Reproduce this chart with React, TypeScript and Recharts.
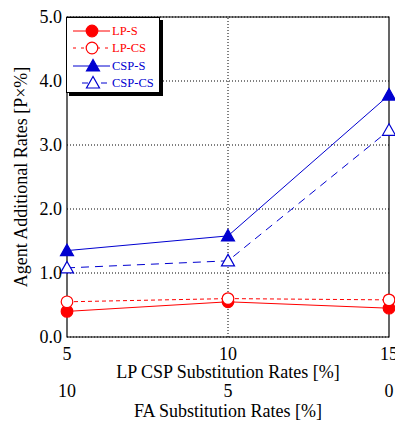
import React from 'react';
import {
  LineChart,
  Line,
  XAxis,
  YAxis,
  CartesianGrid,
  ReferenceLine,
  ReferenceArea,
  Label,
} from 'recharts';

const lpCspRates = [5, 10, 15];
const faRates = [10, 5, 0];
const lpS = [0.4, 0.55, 0.45];
const lpCs = [0.55, 0.6, 0.58];
const cspS = [1.35, 1.58, 3.78];
const cspCs = [1.08, 1.19, 3.23];
const yTicks = [0, 1, 2, 3, 4, 5];

const RED = '#ff0000';
const BLUE = '#0000d0';
const FONT = 'Liberation Serif';

const data = lpCspRates.map((x, i) => ({
  x,
  lpS: lpS[i],
  lpCs: lpCs[i],
  cspS: cspS[i],
  cspCs: cspCs[i],
}));

const series = [
  { key: 'lpS', name: 'LP-S', color: RED, dash: undefined, shape: 'circle', filled: true },
  { key: 'lpCs', name: 'LP-CS', color: RED, dash: '4 3', shape: 'circle', filled: false },
  { key: 'cspS', name: 'CSP-S', color: BLUE, dash: undefined, shape: 'triangle', filled: true },
  { key: 'cspCs', name: 'CSP-CS', color: BLUE, dash: '8 6', shape: 'triangle', filled: false },
];

function Marker({ cx, cy, shape, filled, color }: any) {
  if (cx == null || cy == null) return null;
  const fill = filled ? color : '#fff';
  if (shape === 'circle') {
    return <circle cx={cx} cy={cy} r={5.8} fill={fill} stroke={color} strokeWidth={1.2} />;
  }
  return (
    <polygon
      points={`${cx},${cy - 6.5} ${cx - 6.5},${cy + 5} ${cx + 6.5},${cy + 5}`}
      fill={fill}
      stroke={color}
      strokeWidth={1.2}
    />
  );
}

function LegendBox() {
  return (
    <div
      style={{
        position: 'absolute',
        left: 66,
        top: 17,
        width: 94,
        height: 76,
        border: '1px solid #000',
        background: '#fff',
        boxShadow: '3px 3px 0 #000',
        fontFamily: FONT,
        fontSize: 12.5,
        paddingTop: 4,
        boxSizing: 'border-box',
      }}
    >
      {series.map((s) => (
        <div key={s.key} style={{ display: 'flex', alignItems: 'center', height: 17.5 }}>
          <svg width={45} height={16} style={{ flex: 'none' }}>
            <line
              x1={s.key === 'cspCs' ? 15 : 6}
              x2={s.key === 'cspCs' ? 40 : 43}
              y1={8}
              y2={8}
              stroke={s.color}
              strokeWidth={1}
              strokeDasharray={s.key === 'lpCs' ? '3 5' : s.key === 'cspCs' ? '6 13 6' : undefined}
            />
            <Marker cx={s.shape === 'triangle' ? 26 : 25} cy={8} shape={s.shape} filled={s.filled} color={s.color} />
          </svg>
          <span style={{ color: s.color, lineHeight: '16px' }}>{s.name}</span>
        </div>
      ))}
    </div>
  );
}

function YLabel({ viewBox }: any) {
  const cy = viewBox.y + viewBox.height / 2;
  return (
    <text
      x={27}
      y={cy}
      transform={`rotate(-90 27 ${cy})`}
      textAnchor="middle"
      style={{ fontFamily: FONT, fontSize: 18, fill: '#000' }}
    >
      Agent Additional Rates [P×%]
    </text>
  );
}

export default function App() {
  const tickStyle = { fill: '#000', fontSize: 18, style: { fontFamily: FONT } };
  const labelStyle = { fill: '#000', fontSize: 18, fontFamily: FONT };
  return (
    <div
      style={{
        position: 'fixed',
        left: 0,
        top: 0,
        width: 395,
        height: 422,
        overflow: 'hidden',
        background: '#fff',
        fontFamily: FONT,
      }}
    >
      <LineChart
        width={395}
        height={422}
        data={data}
        margin={{ top: 17, right: 6, left: 0, bottom: 0 }}
        style={{ fontFamily: FONT }}
      >
        <CartesianGrid vertical={false} stroke="#000" strokeDasharray="1 2" />
        <ReferenceLine x={10} stroke="#000" strokeDasharray="1 2" />
        <ReferenceArea
          x1={5}
          x2={15}
          y1={0}
          y2={5}
          fill="none"
          stroke="#000"
          strokeWidth={1.2}
          fillOpacity={0}
        />
        <XAxis
          dataKey="x"
          type="number"
          domain={[5, 15]}
          ticks={lpCspRates}
          height={44}
          axisLine={false}
          tickLine={false}
          tickSize={0}
          tickMargin={10}
          tick={tickStyle}
          interval={0}
        >
          <Label value="LP CSP Substitution Rates [%]" position="insideBottom" offset={3} style={labelStyle} />
        </XAxis>
        <XAxis
          xAxisId="fa"
          dataKey="x"
          type="number"
          domain={[5, 15]}
          ticks={lpCspRates}
          tickFormatter={(v: number) => String(faRates[lpCspRates.indexOf(v)])}
          height={41}
          axisLine={false}
          tickLine={false}
          tickSize={0}
          tickMargin={3}
          tick={tickStyle}
          interval={0}
        >
          <Label value="FA Substitution Rates [%]" position="insideBottom" offset={5} style={labelStyle} />
        </XAxis>
        <YAxis
          type="number"
          domain={[0, 5]}
          ticks={yTicks}
          width={67}
          axisLine={false}
          tickLine={false}
          tickSize={0}
          tickMargin={5}
          tick={tickStyle}
          tickFormatter={(v: number) => v.toFixed(1)}
          interval={0}
        >
          <Label content={<YLabel />} />
        </YAxis>
        {series.map((s) => (
          <Line
            key={s.key}
            dataKey={s.key}
            name={s.name}
            type="linear"
            stroke={s.color}
            strokeWidth={1}
            strokeDasharray={s.dash}
            dot={(p: any) => (
              <Marker key={p.index} cx={p.cx} cy={p.cy} shape={s.shape} filled={s.filled} color={s.color} />
            )}
            activeDot={false}
            isAnimationActive={false}
          />
        ))}
      </LineChart>
      <LegendBox />
    </div>
  );
}
